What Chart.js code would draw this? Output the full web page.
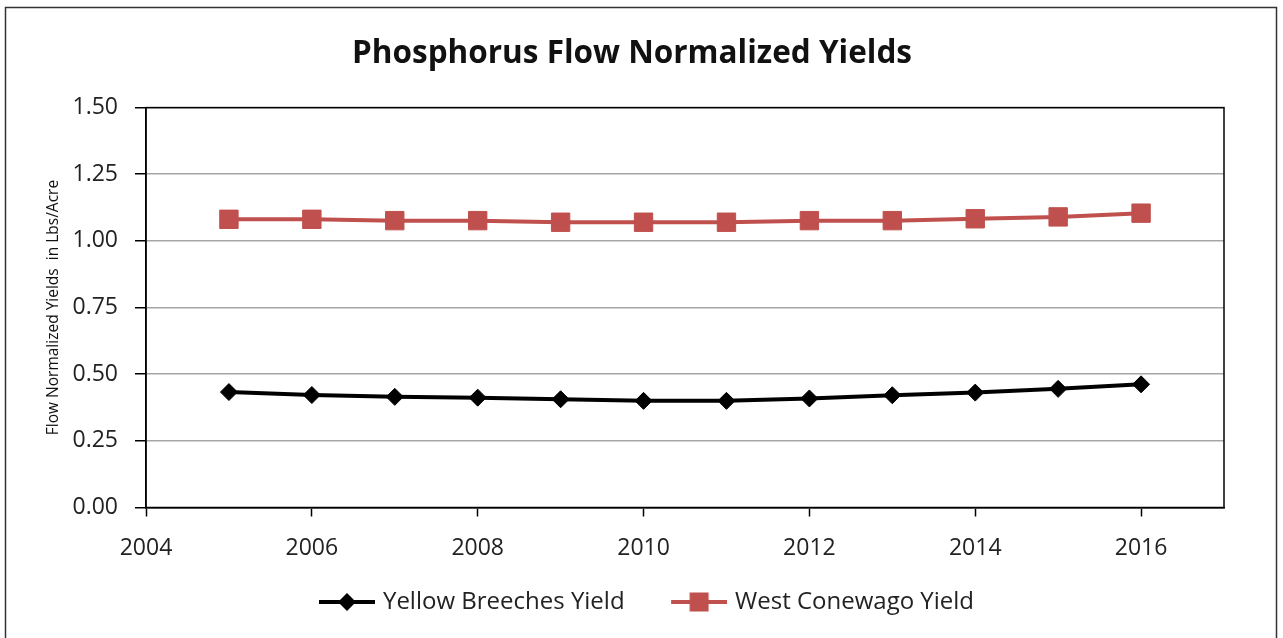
<!DOCTYPE html>
<html><head><meta charset="utf-8">
<script src="https://cdn.jsdelivr.net/npm/chart.js@4.4.1/dist/chart.umd.min.js"></script>
<style>html,body{margin:0;padding:0;background:#fff;} canvas{display:block;}</style>
</head><body>
<canvas id="c" width="1283" height="638"></canvas>
<script>
const chartTitle = 'Phosphorus Flow Normalized Yields';
const yAxisTitle = 'Flow Normalized Yields  in Lbs/Acre';
const years = [2005, 2006, 2007, 2008, 2009, 2010, 2011, 2012, 2013, 2014, 2015, 2016];
const yellowBreeches = [0.433, 0.422, 0.415, 0.412, 0.406, 0.400, 0.400, 0.409, 0.421, 0.431, 0.445, 0.462];
const westConewago = [1.081, 1.081, 1.076, 1.076, 1.070, 1.070, 1.070, 1.076, 1.076, 1.083, 1.090, 1.104];
const seriesNames = ['Yellow Breeches Yield', 'West Conewago Yield'];
const xTickValues = [2004, 2006, 2008, 2010, 2012, 2014, 2016];
const yTickValues = [0, 0.25, 0.5, 0.75, 1.0, 1.25, 1.5];

const FONT = "'Open Sans', sans-serif";
Chart.defaults.font.family = FONT;
Chart.defaults.color = '#222';

const RED = '#C0504D';
const LEG_PAD = 17.5;
const GAP_E = 29;
function makeIcon(kind, color) {
  const c = document.createElement('canvas');
  c.width = 89; c.height = 26;
  const g = c.getContext('2d');
  const cy = 13;
  g.strokeStyle = color; g.lineWidth = 4;
  g.beginPath(); g.moveTo(GAP_E + 4, cy); g.lineTo(89, cy); g.stroke();
  const mx = GAP_E + 4 + 28;
  g.fillStyle = color;
  if (kind === 'diamond') {
    g.beginPath(); g.moveTo(mx - 9, cy); g.lineTo(mx, cy - 9); g.lineTo(mx + 9, cy); g.lineTo(mx, cy + 9); g.closePath(); g.fill();
  } else {
    g.fillRect(mx - 9.5, cy - 9.5, 19, 19);
  }
  return c;
}
const icons = [makeIcon('diamond', '#000'), makeIcon('square', RED)];

const frame = {
  id: 'frame',
  beforeDraw(chart) {
    const ctx = chart.ctx;
    ctx.save();
    ctx.fillStyle = '#fff';
    ctx.fillRect(0, 0, chart.width, chart.height);
    ctx.strokeStyle = '#333'; ctx.lineWidth = 1.5;
    ctx.strokeRect(5.5, 7.5, 1271, 640);
    ctx.restore();
  },
  beforeDatasetsDraw(chart) {
    const a = chart.chartArea, ctx = chart.ctx;
    ctx.save();
    ctx.strokeStyle = '#000'; ctx.lineWidth = 1.5;
    ctx.strokeRect(a.left, a.top, a.right - a.left, a.bottom - a.top);
    ctx.restore();
  }
};

new Chart(document.getElementById('c'), {
  type: 'line',
  data: {
    datasets: [
      {
        label: seriesNames[0],
        data: years.map((y, i) => ({x: y, y: yellowBreeches[i]})),
        borderColor: '#000', backgroundColor: '#000', borderWidth: 4,
        pointStyle: 'rectRot', pointRadius: 8.5, pointBorderWidth: 1, pointHoverRadius: 8.5,
        tension: 0
      },
      {
        label: seriesNames[1],
        data: years.map((y, i) => ({x: y, y: westConewago[i]})),
        borderColor: RED, backgroundColor: RED, borderWidth: 4,
        pointStyle: 'rect', pointRadius: 13, pointBorderWidth: 1, pointHoverRadius: 13,
        tension: 0
      }
    ]
  },
  options: {
    responsive: false,
    devicePixelRatio: 1,
    animation: false,
    layout: {padding: {left: 40, right: 59, top: 0, bottom: 14}},
    plugins: {
      title: {
        display: true, text: chartTitle, color: '#111',
        font: {size: 31.5, weight: 'bold', family: FONT, lineHeight: 1.2},
        padding: {top: 35, bottom: 34.8}
      },
      legend: {
        position: 'bottom',
        labels: {
          usePointStyle: true, pointStyleWidth: 81, boxHeight: 20,
          padding: LEG_PAD, color: '#222',
          font: {size: 24, family: FONT},
          generateLabels(chart) {
            const items = Chart.defaults.plugins.legend.labels.generateLabels(chart);
            items.forEach((it, i) => { it.pointStyle = icons[i]; });
            return items;
          }
        }
      },
      tooltip: {enabled: false}
    },
    scales: {
      x: {
        type: 'linear', min: 2004, max: 2017,
        afterBuildTicks(scale) { scale.ticks = xTickValues.map(v => ({value: v})); },
        afterFit(scale) { scale.height = 65; },
        grid: {drawOnChartArea: false, drawTicks: true, tickLength: 9, tickColor: '#000', tickWidth: 1.5},
        border: {color: '#000', width: 1.5},
        ticks: {padding: 18, color: '#222', font: {size: 23, family: FONT}, callback: v => String(v), maxRotation: 0, autoSkip: false}
      },
      y: {
        type: 'linear', min: 0, max: 1.5,
        afterBuildTicks(scale) { scale.ticks = yTickValues.map(v => ({value: v})); },
        afterFit(scale) { scale.width = 106; },
        grid: {color: '#a6a6a6', lineWidth: 1.5, tickLength: 11, tickColor: '#000', tickWidth: 1.5},
        border: {color: '#000', width: 1.5},
        ticks: {padding: 17, color: '#222', font: {size: 23, family: FONT}, callback: v => v.toFixed(2)},
        title: {display: true, text: yAxisTitle, color: '#111', font: {size: 15.5, family: FONT}, padding: {top: 4, bottom: 0}}
      }
    }
  },
  plugins: [frame]
});
</script>
</body></html>
